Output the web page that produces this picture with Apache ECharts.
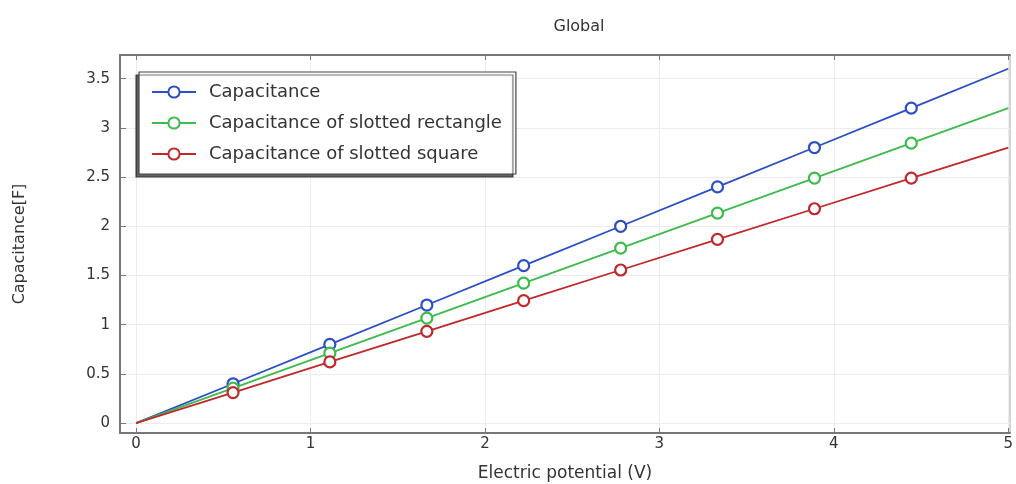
<!DOCTYPE html>
<html>
<head>
<meta charset="utf-8">
<script src="https://cdn.jsdelivr.net/npm/echarts@6/dist/echarts.min.js"></script>
<style>
  html, body { margin: 0; padding: 0; background: #fff; }
  #chart { width: 1016px; height: 484px; }
</style>
</head>
<body>
<div id="chart"></div>
<script>
// values
const potential = [0, 0.556, 1.111, 1.667, 2.222, 2.778, 3.333, 3.889, 4.444, 5]
const capacitance = [0, 0.4, 0.8, 1.2, 1.6, 2.0, 2.4, 2.8, 3.2, 3.6]
const capRect = [0, 0.356, 0.711, 1.067, 1.422, 1.778, 2.133, 2.489, 2.844, 3.2]
const capSquare = [0, 0.311, 0.622, 0.933, 1.244, 1.556, 1.867, 2.178, 2.489, 2.8]
const xTicks = [0, 1, 2, 3, 4, 5]
const yTicks = [0, 0.5, 1, 1.5, 2, 2.5, 3, 3.5]
const names = ['Capacitance', 'Capacitance of slotted rectangle', 'Capacitance of slotted square']
const colors = ['#2c4fc4', '#3dbb4c', '#c0282c']

const font = 'DejaVu Sans'
const axisColor = '#777'

// no marker drawn on the first and last point
const toData = ys => ys.map((y, i) => {
  const item = { value: [potential[i], y] }
  if (i === 0 || i === ys.length - 1) item.symbol = 'none'
  return item
})

const mkSeries = (name, ys, color) => ({
  name,
  type: 'line',
  data: toData(ys),
  symbol: 'circle',
  symbolSize: 11,
  showAllSymbol: true,
  lineStyle: { color, width: 1.8 },
  itemStyle: { color: '#fff', borderColor: color, borderWidth: 2.2 },
  emphasis: { disabled: true },
  z: 3
})

const chart = echarts.init(document.getElementById('chart'), null, { renderer: 'canvas' })

const option = {
  backgroundColor: '#fff',
  animation: false,
  color: colors,

  title: {
    text: 'Global',
    left: 574,
    top: 14,
    textAlign: 'center',
    textStyle: { fontFamily: font, fontSize: 16, fontWeight: 'normal', color: '#333' }
  },

  legend: {
    data: names,
    orient: 'vertical',
    left: 139,
    top: 72,
    padding: [11, 14, 11, 12],
    itemWidth: 44,
    itemHeight: 14,
    itemGap: 13,
    backgroundColor: '#fff',
    borderColor: '#444',
    borderWidth: 1.2,
    shadowColor: 'rgba(0,0,0,0.6)',
    shadowBlur: 1,
    shadowOffsetX: -3,
    shadowOffsetY: 3,
    textStyle: { fontFamily: font, fontSize: 18, lineHeight: 18, color: '#333', padding: [0, 0, 0, 8] }
  },

  grid: {
    left: 120,
    right: 6,
    top: 55,
    bottom: 51,
    outerBoundsMode: 'none',
    show: true,
    borderColor: '#aaa',
    borderWidth: 1
  },

  xAxis: [
    {
      type: 'value',
      min: -0.092,
      max: 5.01,
      name: 'Electric potential (V)',
      nameLocation: 'middle',
      nameGap: 32,
      nameTextStyle: { fontFamily: font, fontSize: 17, color: '#333' },
      axisLine: { show: true, onZero: false, lineStyle: { color: axisColor, width: 2 } },
      axisTick: { show: true, inside: true, length: 5, customValues: xTicks, lineStyle: { color: axisColor } },
      axisLabel: { customValues: xTicks, fontFamily: font, fontSize: 15, color: '#333', margin: 4 },
      splitLine: { show: true, lineStyle: { color: '#ececec', width: 1 } }
    },
    {
      type: 'value',
      position: 'top',
      min: -0.092,
      max: 5.01,
      axisLine: { show: true, onZero: false, lineStyle: { color: axisColor, width: 2 } },
      axisTick: { show: true, inside: true, length: 5, customValues: xTicks, lineStyle: { color: axisColor } },
      axisLabel: { show: false },
      splitLine: { show: false }
    }
  ],

  yAxis: {
    type: 'value',
    min: -0.1,
    max: 3.74,
    name: 'Capacitance[F]',
    nameLocation: 'middle',
    nameGap: 92,
    nameTextStyle: { fontFamily: font, fontSize: 16, color: '#333' },
    axisLine: { show: true, onZero: false, lineStyle: { color: axisColor, width: 2 } },
    axisTick: { show: true, inside: true, length: 6, customValues: yTicks, lineStyle: { color: axisColor } },
    axisLabel: { customValues: yTicks, fontFamily: font, fontSize: 15, color: '#333', margin: 10 },
    splitLine: { show: true, lineStyle: { color: '#ececec', width: 1 } }
  },

  series: [
    mkSeries(names[0], capacitance, colors[0]),
    mkSeries(names[1], capRect, colors[1]),
    mkSeries(names[2], capSquare, colors[2])
  ]
}

chart.setOption(option)
</script>
</body>
</html>
